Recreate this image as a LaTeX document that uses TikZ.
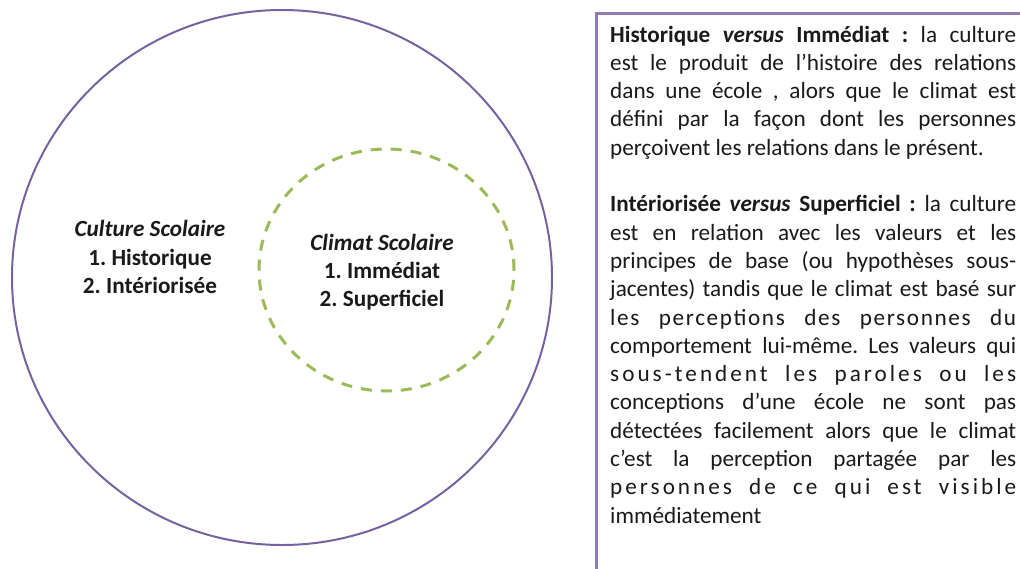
\documentclass[tikz,border=0pt]{standalone}
\usepackage{fontspec}
\setmainfont{Carlito}
\usetikzlibrary{shapes.geometric}
\definecolor{circpurple}{HTML}{7463A0}
\definecolor{boxpurple}{HTML}{8E7EB4}
\definecolor{dashgreen}{HTML}{9BBB59}
\definecolor{txt}{HTML}{1A1A1A}
\newcommand{\vrs}{\textbf{\textit{versus}}}
\newcommand{\fl}[1]{\makebox[406pt][s]{#1}}
\newcommand{\fls}[2]{\makebox[406pt][s]{\addfontfeature{LetterSpace=#1}#2}}
\frenchspacing
\begin{document}
\begin{tikzpicture}[x=1pt,y=-1pt,
  labeltext/.style={font=\fontsize{23.2pt}{28.3pt}\selectfont\bfseries, text=txt, align=center, inner sep=0pt},
  bodytext/.style={font=\fontsize{23.2pt}{28.3pt}\selectfont, text=txt, align=left, inner sep=0pt, anchor=north west},
  outercircle/.style={draw=circpurple, line width=2pt, ellipse, inner sep=0pt},
  innercircle/.style={draw=dashgreen, line width=3pt, dash pattern=on 11pt off 9pt, ellipse, inner sep=0pt},
  textbox/.style={draw=boxpurple, line width=2.5pt, rectangle, inner sep=0pt, anchor=north west}]
\useasboundingbox (0,0) rectangle (1020,568);
\fill[white] (0,0) rectangle (1020,568);
\node[outercircle, minimum width=540pt, minimum height=535pt] (culture) at (282,277.5) {};
\node[innercircle, minimum width=255pt, minimum height=242pt] (climat) at (386.5,270) {};
\node[labeltext] (culturelbl) at (150,257) {\textit{Culture Scolaire}\\1. Historique\\2. Intériorisée};
\node[labeltext] (climatlbl) at (382,272) {\textit{Climat Scolaire}\\1. Immédiat\\2. Superficiel};
\node[textbox, minimum width=450pt, minimum height=580pt] (box) at (595,12) {};
\node[bodytext] (desc) at (610,22) {\strut\fl{\textbf{Historique} \vrs{} \textbf{Immédiat :} la culture}\\
\fl{est le produit de l’histoire des relations}\\
\fl{dans une école , alors que le climat est}\\
\fl{défini par la façon dont les personnes}\\
perçoivent les relations dans le présent.\\[28.3pt]
\fl{\textbf{Intériorisée} \vrs{} \textbf{Superficiel :} la culture}\\
\fl{est en relation avec les valeurs et les}\\
\fl{principes de base (ou hypothèses sous-}\\
\fl{jacentes) tandis que le climat est basé sur}\\
\fls{7}{les perceptions des personnes du}\\
\fl{comportement lui-même. Les valeurs qui}\\
\fls{13}{sous-tendent les paroles ou les}\\
\fl{conceptions d’une école ne sont pas}\\
\fl{détectées facilement alors que le climat}\\
\fl{c’est la perception partagée par les}\\
\fls{13}{personnes de ce qui est visible}\\
immédiatement};
\end{tikzpicture}
\end{document}
